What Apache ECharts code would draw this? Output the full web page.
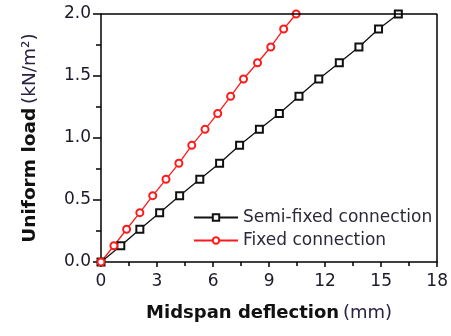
<!DOCTYPE html>
<html><head><meta charset="utf-8">
<script src="https://cdn.jsdelivr.net/npm/echarts@6/dist/echarts.min.js"></script>
<style>html,body{margin:0;padding:0;background:#fff}#c{width:451px;height:336px}</style>
</head><body><div id="c"></div>
<script>
var loadY = [0, 0.131, 0.264, 0.398, 0.535, 0.667, 0.796, 0.941, 1.07, 1.198, 1.336, 1.476, 1.607, 1.734, 1.879, 2.0];
var semiX = [0, 1.06, 2.08, 3.14, 4.21, 5.29, 6.35, 7.42, 8.48, 9.55, 10.6, 11.66, 12.76, 13.81, 14.86, 15.92];
var fixedX = [0, 0.69, 1.37, 2.08, 2.77, 3.48, 4.17, 4.86, 5.57, 6.25, 6.94, 7.63, 8.38, 9.09, 9.78, 10.45];
var seriesNames = ['Semi-fixed connection', 'Fixed connection'];
var xTicks = [0, 3, 6, 9, 12, 15, 18];
var yTicks = [0.0, 0.5, 1.0, 1.5, 2.0];

function pairs(xs, ys) { return xs.map(function (x, i) { return [x, ys[i]]; }); }
var font = 'DejaVu Sans, sans-serif';
var chart = echarts.init(document.getElementById('c'), null, {renderer: 'canvas'});
chart.setOption({
  animation: false,
  textStyle: {fontFamily: font},
  grid: {left: 101, right: 12, top: 14, bottom: 74},
  legend: {
    orient: 'vertical', left: 188, top: 204, itemWidth: 44, itemHeight: 8, itemGap: 6,
    textStyle: {fontSize: 17, color: '#2a2a3a', fontFamily: font},
    data: seriesNames
  },
  xAxis: {
    type: 'value', min: 0, max: 18, interval: 3,
    name: '{b|Midspan deflection} {r|(mm)}', nameLocation: 'middle', nameGap: 42,
    nameTextStyle: {rich: {b: {fontSize: 18, fontWeight: 'bold', color: '#111', fontFamily: font}, r: {fontSize: 18, color: '#2a2040', fontFamily: font}}},
    axisLine: {show: true, lineStyle: {color: '#000', width: 1.5}},
    axisTick: {show: true, length: 5, lineStyle: {color: '#000', width: 1.5}},
    minorTick: {show: true, splitNumber: 2, length: 4, lineStyle: {color: '#000', width: 1.5}},
    axisLabel: {fontSize: 17, color: '#1a1a2a', margin: 11, formatter: function (v) { return xTicks.indexOf(v) >= 0 ? String(v) : ''; }},
    splitLine: {show: false}
  },
  yAxis: {
    type: 'value', min: 0, max: 2, interval: 0.5,
    name: '{b|Uniform load} {r|(kN/m²)}', nameLocation: 'middle', nameGap: 61, nameRotate: 90,
    nameTextStyle: {rich: {b: {fontSize: 18.5, fontWeight: 'bold', color: '#111', fontFamily: font}, r: {fontSize: 18.5, color: '#2a2040', fontFamily: font}}},
    axisLine: {show: true, lineStyle: {color: '#000', width: 1.5}},
    axisTick: {show: true, length: 8, lineStyle: {color: '#000', width: 1.5}},
    minorTick: {show: true, splitNumber: 2, length: 5, lineStyle: {color: '#000', width: 1.5}},
    axisLabel: {fontSize: 17, color: '#1a1a2a', margin: 10, formatter: function (v) { return v.toFixed(1); }},
    splitLine: {show: false}
  },
  series: [
    {
      name: seriesNames[0], type: 'line', data: pairs(semiX, loadY),
      symbol: 'emptyRect', symbolSize: 7, color: '#111',
      lineStyle: {color: '#111', width: 1.3}, itemStyle: {color: '#111', borderWidth: 1.3},
      markLine: {silent: true, symbol: 'none', label: {show: false}, lineStyle: {color: '#000', width: 1.5, type: 'solid'},
        data: [[{coord: [0, 2]}, {coord: [18, 2]}], [{coord: [18, 0]}, {coord: [18, 2]}]]}
    },
    {
      name: seriesNames[1], type: 'line', data: pairs(fixedX, loadY),
      symbol: 'emptyCircle', symbolSize: 7, color: '#ff1a1a',
      lineStyle: {color: '#ff1a1a', width: 1.3}, itemStyle: {color: '#ff1a1a', borderWidth: 1.3}
    }
  ]
});
</script></body></html>
